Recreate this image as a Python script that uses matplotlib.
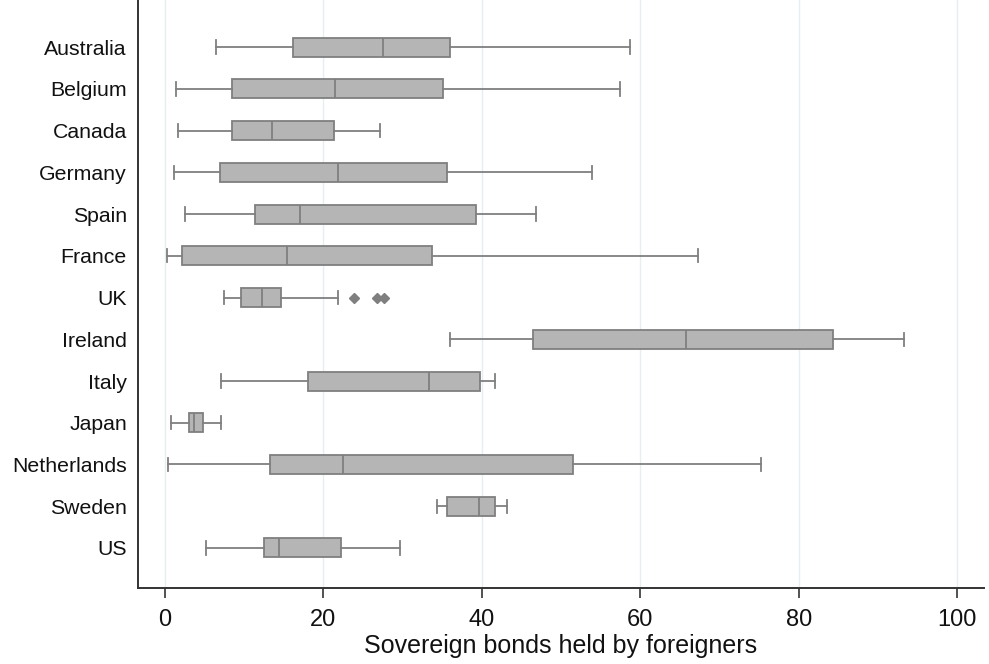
import matplotlib.pyplot as plt

countries = ["Australia", "Belgium", "Canada", "Germany", "Spain", "France", "UK",
             "Ireland", "Italy", "Japan", "Netherlands", "Sweden", "US"]

# box stats (percent)
whislo = [6.5, 1.4, 1.6, 1.1, 2.5, 0.2, 7.5, 36.0, 7.1, 0.8, 0.4, 34.3, 5.2]
q1 = [16.2, 8.5, 8.5, 6.9, 11.4, 2.1, 9.6, 46.4, 18.0, 3.0, 13.3, 35.6, 12.5]
med = [27.5, 21.5, 13.5, 21.8, 17.0, 15.4, 12.2, 65.8, 33.3, 3.6, 22.5, 39.6, 14.4]
q3 = [36.0, 35.1, 21.3, 35.6, 39.3, 33.7, 14.6, 84.3, 39.8, 4.8, 51.5, 41.7, 22.2]
whishi = [58.7, 57.5, 27.1, 53.9, 46.8, 67.3, 21.9, 93.3, 41.7, 7.1, 75.2, 43.2, 29.7]
outliers = {"UK": [23.8, 26.8, 27.6]}

xticks = [0, 20, 40, 60, 80, 100]

stats = []
for i, c in enumerate(countries):
    stats.append({"label": c, "whislo": whislo[i], "q1": q1[i], "med": med[i],
                  "q3": q3[i], "whishi": whishi[i], "fliers": outliers.get(c, [])})

plt.rcParams['font.family'] = ['Liberation Sans', 'DejaVu Sans']

fig = plt.figure(figsize=(9.89, 6.64), dpi=100)
ax = fig.add_axes([138 / 989, 76 / 664, 846 / 989, 588 / 664])

edge = '#7f7f7f'
pos = list(range(1, len(countries) + 1))
ax.bxp(stats, positions=pos, widths=0.455, orientation='horizontal',
       patch_artist=True, capwidths=0.32, manage_ticks=False,
       boxprops=dict(facecolor='#b5b5b5', edgecolor=edge, linewidth=1.3),
       medianprops=dict(color=edge, linewidth=1.3),
       whiskerprops=dict(color=edge, linewidth=1.3),
       capprops=dict(color=edge, linewidth=1.3),
       flierprops=dict(marker='D', markersize=5.5, markerfacecolor=edge,
                       markeredgecolor=edge, linestyle='none'))

ax.set_xlim(-3.41, 103.4)
ax.set_ylim(13.96, -0.13)
ax.set_yticks(pos)
ax.set_yticklabels(countries, fontsize=15.3, color='#111111')
ax.tick_params(axis='y', length=0, pad=8)
ax.set_xticks(xticks)
ax.tick_params(axis='x', labelsize=17, length=7, width=1.2, color='#333333',
               labelcolor='#111111', pad=8)
ax.set_xlabel("Sovereign bonds held by foreigners", fontsize=18,
              color='#111111', labelpad=2)

ax.grid(axis='x', color='#e6eef0', linewidth=1)
ax.set_axisbelow(True)
for s in ['top', 'right']:
    ax.spines[s].set_visible(False)
for s in ['left', 'bottom']:
    ax.spines[s].set_color('#333333')
    ax.spines[s].set_linewidth(1.4)

fig.savefig('out.png', dpi=100)
